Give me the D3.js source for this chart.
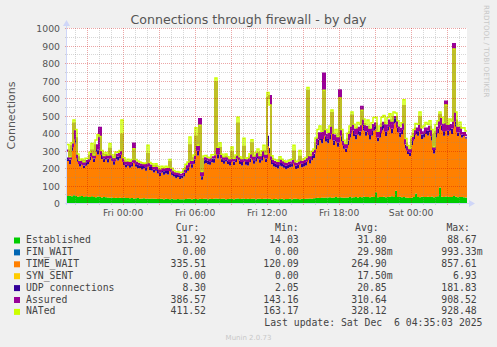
<!DOCTYPE html>
<html>
<head>
<meta charset="utf-8">
<script src="https://cdn.jsdelivr.net/npm/d3@7"></script>
<style>
body { margin: 0; background: #f0f0f0; }
</style>
</head>
<body>
<div id="chart"></div>
<script>
// 10 minute samples, Thu 19:22 -> Sat 04:42
let established = [
    40, 42, 38, 45, 40, 36, 38, 40, 35, 38,
    36, 34, 38, 35, 33, 37, 35, 32, 34, 33,
    32, 30, 31, 29, 30, 28, 30, 29, 31, 28,
    28, 27, 29, 26, 27, 28, 25, 26, 27, 25,
    25, 24, 26, 25, 24, 23, 25, 24, 22, 24,
    23, 22, 24, 22, 21, 23, 22, 21, 22, 23,
    24, 25, 22, 24, 23, 22, 24, 23, 25, 24,
    22, 24, 23, 25, 26, 24, 23, 25, 24, 22,
    23, 25, 24, 22, 24, 26, 23, 24, 25, 23,
    24, 23, 25, 24, 22, 24, 25, 23, 24, 25,
    25, 24, 22, 23, 24, 22, 23, 24, 22, 23,
    23, 24, 22, 25, 24, 23, 22, 24, 23, 25,
    24, 26, 25, 27, 28, 30, 29, 31, 30, 32,
    31, 33, 30, 32, 34, 31, 33, 32, 30, 31,
    32, 34, 31, 33, 35, 32, 34, 33, 36, 34,
    35, 33, 36, 34, 62, 33, 35, 34, 36, 33,
    34, 36, 38, 35, 70, 34, 36, 33, 35, 32,
    30, 28, 32, 34, 55, 35, 33, 36, 34, 35,
    36, 34, 37, 33, 35, 38, 89, 36, 35, 37,
    36, 34, 35, 40, 36, 33, 35, 34, 33, 32
];
let timeWait = [
    200, 180, 260, 330, 300, 200, 170, 180, 165, 175,
    185, 210, 230, 200, 260, 240, 300, 220, 200, 215,
    200, 250, 210, 190, 220, 215, 225, 290, 185, 175,
    185, 175, 180, 230, 180, 170, 175, 165, 170, 160,
    200, 165, 160, 150, 160, 145, 130, 150, 140, 145,
    140, 175, 135, 130, 120, 125, 115, 120, 130, 150,
    160, 240, 180, 200, 290, 250, 330, 110, 200, 205,
    200, 195, 210, 205, 330, 230, 260, 210, 200, 215,
    200, 190, 230, 195, 210, 290, 200, 190, 260, 195,
    190, 210, 280, 200, 215, 230, 205, 220, 240, 210,
    300, 260, 200, 185, 180, 175, 190, 185, 180, 170,
    175, 180, 185, 230, 170, 175, 210, 180, 185, 190,
    330, 200, 220, 230, 280, 300, 330, 310, 420, 320,
    310, 330, 440, 300, 320, 290, 400, 320, 280, 260,
    300, 340, 420, 350, 330, 360, 350, 470, 380, 350,
    370, 330, 350, 380, 360, 320, 340, 380, 390, 350,
    380, 400, 360, 420, 390, 370, 340, 360, 480, 280,
    250, 240, 300, 330, 340, 350, 420, 330, 340, 360,
    350, 370, 320, 250, 340, 360, 380, 380, 350, 480,
    350, 380, 360, 520, 400, 350, 370, 340, 350, 336
];
let udp = [
    20, 25, 20, 25, 25, 20, 15, 15, 15, 20,
    15, 20, 25, 20, 30, 25, 35, 25, 20, 20,
    20, 20, 15, 20, 20, 20, 20, 25, 20, 15,
    15, 15, 20, 40, 20, 20, 15, 20, 15, 20,
    20, 20, 20, 15, 20, 20, 20, 15, 20, 20,
    20, 20, 20, 15, 20, 15, 20, 15, 20, 20,
    20, 30, 20, 25, 30, 25, 40, 20, 20, 20,
    20, 20, 20, 25, 30, 25, 25, 20, 20, 20,
    20, 20, 25, 20, 20, 40, 20, 20, 30, 20,
    20, 20, 30, 20, 25, 25, 20, 25, 25, 20,
    60, 30, 25, 20, 20, 20, 25, 20, 20, 20,
    20, 20, 20, 30, 20, 20, 25, 20, 20, 20,
    40, 20, 25, 25, 25, 30, 30, 25, 35, 30,
    25, 30, 40, 25, 25, 25, 50, 30, 20, 20,
    25, 25, 40, 30, 25, 30, 25, 40, 30, 25,
    25, 25, 30, 25, 25, 20, 25, 30, 25, 25,
    25, 30, 25, 30, 25, 25, 25, 25, 30, 20,
    20, 20, 25, 25, 25, 25, 30, 25, 25, 25,
    25, 25, 25, 20, 25, 25, 30, 25, 25, 35,
    25, 25, 30, 60, 30, 20, 20, 15, 10, 8
];
let assured = [
    300, 255, 325, 455, 370, 262, 228, 240, 222, 240,
    240, 270, 300, 262, 330, 310, 430, 282, 260, 274,
    258, 310, 262, 245, 276, 270, 282, 390, 242, 224,
    234, 222, 236, 340, 232, 224, 220, 216, 218, 210,
    280, 215, 212, 196, 210, 194, 180, 195, 188, 195,
    188, 235, 185, 172, 166, 168, 162, 162, 178, 200,
    210, 330, 228, 256, 380, 305, 480, 160, 252, 256,
    248, 245, 260, 262, 690, 285, 315, 262, 250, 264,
    250, 240, 290, 244, 260, 455, 250, 240, 322, 245,
    240, 260, 342, 250, 268, 286, 256, 275, 296, 262,
    600, 612, 252, 234, 230, 222, 244, 234, 228, 218,
    224, 230, 232, 295, 220, 224, 264, 230, 234, 242,
    640, 252, 276, 290, 340, 368, 398, 372, 740, 390,
    372, 400, 515, 365, 386, 352, 645, 390, 336, 318,
    364, 405, 500, 420, 396, 430, 416, 550, 452, 416,
    436, 395, 422, 446, 454, 380, 406, 450, 458, 415,
    445, 472, 430, 492, 492, 436, 408, 425, 555, 340,
    306, 294, 362, 395, 426, 416, 490, 398, 405, 426,
    418, 436, 388, 308, 406, 430, 505, 448, 416, 580,
    418, 446, 432, 908, 472, 410, 432, 396, 400, 387
];
let nated = [
    335, 265, 345, 474, 420, 280, 245, 252, 236, 256,
    255, 290, 340, 275, 360, 390, 380, 300, 272, 288,
    275, 340, 276, 260, 292, 290, 300, 475, 258, 240,
    250, 238, 248, 310, 248, 240, 234, 230, 226, 228,
    330, 232, 225, 210, 224, 210, 196, 210, 202, 210,
    204, 248, 198, 186, 178, 180, 175, 176, 194, 222,
    235, 377, 245, 275, 430, 330, 445, 180, 268, 272,
    262, 258, 276, 276, 715, 318, 345, 278, 264, 280,
    264, 255, 320, 256, 275, 490, 264, 254, 370, 256,
    258, 282, 362, 268, 288, 308, 272, 298, 330, 280,
    632, 560, 270, 250, 246, 238, 264, 250, 242, 234,
    240, 246, 250, 330, 236, 240, 300, 246, 252, 260,
    660, 272, 296, 308, 372, 420, 440, 410, 645, 420,
    405, 440, 532, 398, 420, 380, 600, 420, 358, 340,
    398, 440, 520, 450, 430, 460, 448, 530, 480, 448,
    475, 428, 458, 488, 490, 410, 440, 490, 500, 455,
    488, 510, 468, 520, 515, 470, 440, 458, 590, 368,
    328, 312, 382, 420, 455, 450, 520, 430, 440, 460,
    450, 470, 420, 322, 448, 470, 520, 490, 458, 560,
    450, 480, 468, 880, 520, 440, 462, 428, 430, 412
];

let legendNames = ["Established", "FIN_WAIT", "TIME_WAIT", "SYN_SENT", "UDP connections", "Assured", "NATed"];
let legendColors = ["#00cc00", "#0066b3", "#ff8000", "#ffcc00", "#330099", "#990099", "#ccff00"];
let curValues = ["31.92", "0.00", "335.51", "0.00", "8.30", "386.57", "411.52"];
let minValues = ["14.03", "0.00", "120.09", "0.00", "2.05", "143.16", "163.17"];
let avgValues = ["31.80", "29.98m", "264.90", "17.50m", "20.85", "310.64", "328.12"];
let maxValues = ["88.67", "993.33m", "857.61", "6.93", "181.83", "908.52", "928.48"];

let yTicks = [0, 100, 200, 300, 400, 500, 600, 700, 800, 900, 1000];
let xLabelTimes = [
    new Date(2025, 11, 5, 0, 0),
    new Date(2025, 11, 5, 6, 0),
    new Date(2025, 11, 5, 12, 0),
    new Date(2025, 11, 5, 18, 0),
    new Date(2025, 11, 6, 0, 0)
];
let startTime = new Date(2025, 11, 4, 19, 22);
let endTime = new Date(2025, 11, 6, 4, 42);
let stepMinutes = 10;

let _plot = { left: 67, right: 467, top: 28, bottom: 203 };
let majorGrid = "rgba(200,0,0,0.35)";
let minorGrid = "rgba(140,140,140,0.35)";
let axisColor = "#cfd6f8";

let svg = d3.select("div#chart")
    .append("svg")
    .attr("width", 497)
    .attr("height", 347)
    .style("font-family", "DejaVu Sans");

svg.append("rect").attr("width", 497).attr("height", 347).attr("fill", "#f0f0f0");

let x = d3.scaleTime().domain([startTime, endTime]).range([_plot.left, _plot.right]);
let y = d3.scaleLinear().domain([0, 1000]).range([_plot.bottom, _plot.top]);

let rows = established.map((v, i) => ({
    t: d3.timeMinute.offset(startTime, i * stepMinutes),
    est: v, tw: timeWait[i], udp: udp[i], asu: assured[i], nat: nated[i]
}));
rows.push(Object.assign({}, rows[rows.length - 1], { t: endTime }));

svg.append("rect")
    .attr("x", _plot.left).attr("y", _plot.top)
    .attr("width", _plot.right - _plot.left).attr("height", _plot.bottom - _plot.top)
    .attr("fill", "white");

let series = d3.stack().keys(["est", "tw", "udp"])(rows);
let stackColors = { est: "#00cc00", tw: "#ff8000", udp: "#330099" };

let area = d3.area()
    .curve(d3.curveStepAfter)
    .x(d => x(d.data.t))
    .y0(d => y(d[0]))
    .y1(d => y(d[1]));

svg.append("g").selectAll("path").data(series).enter().append("path")
    .attr("d", area)
    .attr("fill", d => stackColors[d.key]);

let lineOf = key => d3.line()
    .curve(d3.curveStepAfter)
    .x(d => x(d.t))
    .y(d => y(d[key]));

svg.append("path").attr("d", lineOf("asu")(rows))
    .attr("fill", "none").attr("stroke", "#990099").attr("stroke-width", 2);
svg.append("path").attr("d", lineOf("nat")(rows))
    .attr("fill", "none").attr("stroke", "#ccff00").attr("stroke-width", 1.5);

// grid on top, like rrdtool
let grid = svg.append("g").attr("shape-rendering", "crispEdges");
let hours = d3.timeHour.every(1).range(startTime, endTime);
grid.selectAll("line.vx").data(hours).enter().append("line")
    .attr("x1", d => Math.round(x(d)) + 0.5).attr("x2", d => Math.round(x(d)) + 0.5)
    .attr("y1", _plot.top).attr("y2", _plot.bottom + 2)
    .attr("stroke", d => d.getHours() % 3 === 0 ? majorGrid : minorGrid)
    .attr("stroke-dasharray", "1,1");
let halfSteps = d3.range(50, 1001, 50);
grid.selectAll("line.hy").data(halfSteps).enter().append("line")
    .attr("x1", _plot.left - 2).attr("x2", _plot.right)
    .attr("y1", d => Math.round(y(d)) + 0.5).attr("y2", d => Math.round(y(d)) + 0.5)
    .attr("stroke", d => d % 100 === 0 ? majorGrid : minorGrid)
    .attr("stroke-dasharray", "1,1");

// axes lines + arrows
svg.append("line")
    .attr("x1", _plot.left - 0.5).attr("x2", _plot.left - 0.5)
    .attr("y1", _plot.bottom + 2).attr("y2", _plot.top - 5)
    .attr("stroke", axisColor);
svg.append("line")
    .attr("x1", _plot.left - 2).attr("x2", _plot.right + 4)
    .attr("y1", _plot.bottom + 0.5).attr("y2", _plot.bottom + 0.5)
    .attr("stroke", axisColor);
svg.append("path")
    .attr("d", `M${_plot.left - 4},${_plot.top - 2}L${_plot.left - 0.5},${_plot.top - 8}L${_plot.left + 3},${_plot.top - 2}Z`)
    .attr("fill", axisColor);
svg.append("path")
    .attr("d", `M${_plot.right + 2},${_plot.bottom - 3}L${_plot.right + 8},${_plot.bottom + 0.5}L${_plot.right + 2},${_plot.bottom + 4}Z`)
    .attr("fill", axisColor);

let yAxis = svg.append("g")
    .attr("transform", `translate(${_plot.left},0)`)
    .call(d3.axisLeft(y).tickValues(yTicks).tickFormat(d3.format("d")).tickSize(0).tickPadding(7));
yAxis.select(".domain").remove();
yAxis.selectAll("text")
    .attr("dy", "0.4em")
    .style("font-family", "DejaVu Sans").style("font-size", "9.3px").attr("fill", "#555");

let xAxis = svg.append("g")
    .attr("transform", `translate(0,${_plot.bottom})`)
    .call(d3.axisBottom(x).tickValues(xLabelTimes).tickFormat(d3.timeFormat("%a %H:%M")).tickSize(0).tickPadding(6));
xAxis.select(".domain").remove();
xAxis.selectAll("text")
    .style("font-family", "DejaVu Sans").style("font-size", "9.2px").attr("fill", "#555");

svg.append("text")
    .attr("x", 248.5).attr("y", 23.5)
    .attr("text-anchor", "middle")
    .style("font-size", "12.6px").attr("fill", "#555")
    .text("Connections through firewall - by day");

svg.append("text")
    .attr("transform", `translate(15,${(_plot.top + _plot.bottom) / 2}) rotate(-90)`)
    .attr("text-anchor", "middle")
    .style("font-size", "11px").attr("fill", "#555")
    .text("Connections");

svg.append("text")
    .attr("transform", "translate(484,5) rotate(90)")
    .style("font-size", "7.2px").attr("fill", "#c8c8c8")
    .text("RRDTOOL / TOBI OETIKER");

svg.append("text")
    .attr("x", 248.5).attr("y", 339.5)
    .attr("text-anchor", "middle")
    .style("font-size", "7px").attr("fill", "#c8c8c8")
    .text("Munin 2.0.73");

// legend
let leg = svg.append("g").style("font-family", "DejaVu Sans Mono").style("font-size", "9.8px").attr("fill", "#444");
let rowY = i => 243 + i * 11.9;
let headers = [["Cur:", 199.3], ["Min:", 298.7], ["Avg:", 378.7], ["Max:", 470]];
headers.forEach(h => {
    leg.append("text").attr("x", h[1]).attr("y", 231).attr("text-anchor", "end").text(h[0]);
});
let colEnds = [206, 298.7, 386.7, 476.7];
let endFor = (v, xe) => v.endsWith("m") ? xe + 5.9 : xe;
let g = leg.selectAll("g.row").data(legendNames).enter().append("g");
g.append("rect")
    .attr("x", 14).attr("y", (d, i) => rowY(i) - 5.5)
    .attr("width", 6).attr("height", 6)
    .attr("fill", (d, i) => legendColors[i]);
g.append("text").attr("x", 26).attr("y", (d, i) => rowY(i)).text(d => d);
[curValues, minValues, avgValues, maxValues].forEach((col, c) => {
    g.append("text")
        .attr("x", (d, i) => endFor(col[i], colEnds[c]))
        .attr("y", (d, i) => rowY(i))
        .attr("text-anchor", "end")
        .text((d, i) => col[i]);
});
leg.append("text")
    .attr("x", 482.5).attr("y", rowY(7))
    .attr("text-anchor", "end")
    .style("white-space", "pre")
    .text("Last update: Sat Dec  6 04:35:03 2025");
</script>
</body>
</html>
